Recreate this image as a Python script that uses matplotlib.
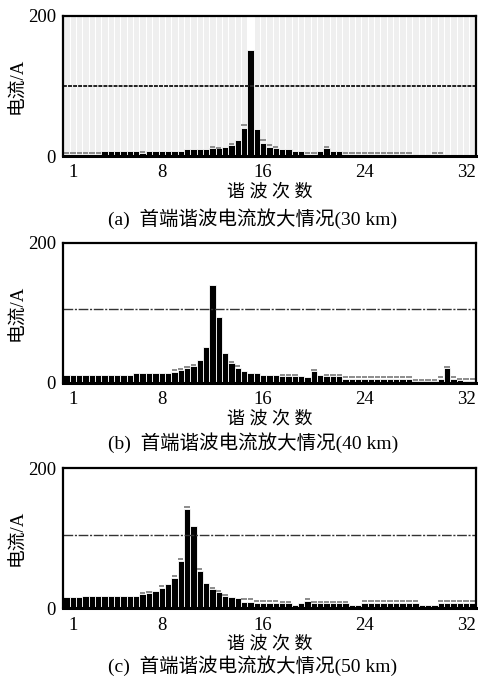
import numpy as np
import matplotlib.pyplot as plt

plt.rcParams['font.family'] = ['Liberation Serif', 'Noto Sans CJK SC']

n = np.nan

# harmonic order, two bars per order
order = np.arange(0.5, 33.0, 0.5)

# (a) 30 km
bg_a = [200] * 29 + [0] + [200] * 35
cur_a = [0] * 6 + [7] * 6 + [4] + [7] * 6 + \
    [10, 10, 9.5, 9.5, 11, 11, 13, 15, 23, 40, 151, 38, 19, 13, 11, 10, 10, 7, 7, 0, 0, 7, 11, 7, 7] + \
    [0] * 21
cap_a = [5] * 6 + [n] * 6 + [6] + [n] * 10 + \
    [12.5, 12, n, 17, n, 44, n, n, 23, 16, 12.5, n, n, n, n, 5, 5, n, 13, n, n] + \
    [5] * 11 + [n] * 3 + [5] * 2 + [n] * 5
lim_a = 100

# (b) 40 km
cur_b = [10.5] * 11 + [14] * 6 + \
    [16, 18, 21, 24, 32, 51, 140, 93.5, 42, 27.5, 20.5, 17, 14, 14, 11, 11, 11, 9, 9, 9, 9, 8, 17, 11, 9.5, 9.5, 9.5] + \
    [5] * 11 + [3] * 4 + [5, 20.5, 5, 4, 3, 3]
cap_b = [n] * 17 + \
    [17.5, 20, 23, 26, n, n, n, n, n, 30, 24, n, n, n, n, n, n, 11, 11, 11, n, n, 18.5, n, 11, 11, 11] + \
    [8] * 11 + [4] * 4 + [8, 23, 8, 6, 5, 5]
lim_b = 105

# (c) 50 km
cur_c = [15.7] * 3 + [18] * 7 + [17.6] * 2 + \
    [21, 22.3, 25, 28.6, 34.7, 43.7, 68, 142, 118, 53, 35.7, 27.6, 22.8, 17, 16, 14, 9.5, 9.5, 7, 7, 7, 7, 7, 7, 4.5, 8, 10.5] + \
    [7] * 6 + [5] * 2 + [7] * 9 + [4.5] * 3 + [8] * 6
cap_c = [n] * 12 + \
    [22.5, 23.7, n, 32, n, 46, 71, 145, n, 56, n, 29.5, 24.5, 19, n, n, 12.8, 12.8, 10.5, 10.5, 10.5, 10.5, 8.5, 8.5, n, n, 13] + \
    [9.5] * 6 + [n] * 2 + [10.5] * 9 + [n] * 3 + [11] * 6
lim_c = 105

captions = ['(a)  首端谐波电流放大情况(30 km)',
            '(b)  首端谐波电流放大情况(40 km)',
            '(c)  首端谐波电流放大情况(50 km)']

fig = plt.figure(figsize=(4.78, 6.81), dpi=100)


def draw(ax, cur, cap, lim, bg=None, dark=False):
    if bg is not None:
        ax.bar(order, bg, width=0.5, color='#efefef', edgecolor='white', linewidth=0.8)
    ax.bar(order, cur, width=0.5, color='black', edgecolor='white', linewidth=0.6)
    ax.hlines(cap, order - 0.21, order + 0.21, colors='#8c8c8c', lw=1.4)
    if dark:
        ax.axhline(lim, color='#222222', lw=1.4, dashes=(2, 0.6))
    else:
        ax.axhline(lim, color='#333333', lw=1.0, dashes=(7, 1.2, 1.5, 1.2))
    ax.set_xlim(0.22, 32.82)
    ax.set_ylim(0, 200)
    ax.set_xticks([1, 8, 16, 24, 32])
    ax.set_yticks([0, 200])
    ax.tick_params(length=0, labelsize=13.5, pad=5)
    ax.tick_params(axis='x', pad=6)
    for s in ax.spines.values():
        s.set_linewidth(1.6)
    ax.spines['bottom'].set_linewidth(2.2)
    ax.set_ylabel('电流/A', fontsize=13.5, labelpad=1)
    ax.set_xlabel('谐 波 次 数', fontsize=13, labelpad=1.5)


ax1 = fig.add_axes([0.1318, 0.7709, 0.8650, 0.2060])
draw(ax1, cur_a, cap_a, lim_a, bg=bg_a, dark=True)
ax2 = fig.add_axes([0.1318, 0.4380, 0.8650, 0.2056])
draw(ax2, cur_b, cap_b, lim_b)
ax3 = fig.add_axes([0.1318, 0.1068, 0.8650, 0.2056])
draw(ax3, cur_c, cap_c, lim_c)

for y, t in zip([0.679, 0.350, 0.022], captions):
    fig.text(0.529, y, t, fontsize=14, ha='center', va='center')

plt.savefig('out.png', dpi=100)
